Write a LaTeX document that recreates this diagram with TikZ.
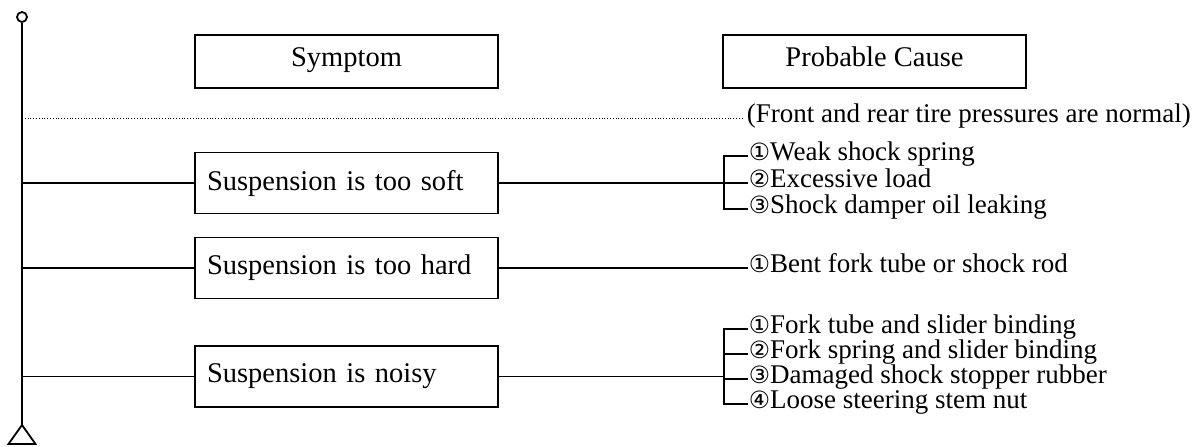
\documentclass[tikz,border=0pt]{standalone}
\usepackage{fontspec}
\setmainfont{Liberation Serif}
\newfontfamily\circfont[Scale=0.88]{DejaVu Sans}
\usetikzlibrary{positioning}
\newcommand{\cnum}[1]{{\circfont #1}}

\begin{document}
\begin{tikzpicture}[
  x=0.5pt, y=-0.5pt, line width=0.9pt,
  every node/.style={font=\fontsize{14.25}{17}\selectfont},
  headbox/.style={draw, minimum width=151.5pt, minimum height=26.5pt, text height=0.7em, text depth=0.2em},
  symbox/.style={draw, text width=139.5pt, inner xsep=6pt, minimum height=30.5pt, align=left},
  cause/.style={anchor=west, inner sep=0pt, font=\fontsize{13.5}{16}\selectfont, text height=0.62em, text depth=0.2em}
]
\useasboundingbox (0,0) rectangle (1196,446);

% trunk
\node[draw, circle, inner sep=0pt, minimum size=5pt] (top) at (22,17) {};
\coordinate (bot) at (22,425);
\draw (top) -- (bot);
\draw (bot) -- ++(-13.5,19) -- ++(27,0) -- cycle;

\node[headbox] (symptom) at (346.5,61.5) {Symptom};
\node[headbox] (cause) at (874.5,61.5) {Probable Cause};

\node[cause] (note) at (746,118) {(Front and rear tire pressures are normal)};
\draw[densely dotted, line width=0.4pt] (top |- note.west) -- ([xshift=-2pt]note.west);

% symptoms
\node[symbox] (soft) at (346.5,183) {Suspension is too soft};
\node[symbox] (hard) at (346.5,268) {Suspension is too hard};
\node[symbox] (noisy) at (346.5,376.5) {Suspension is noisy};
\foreach \s in {soft,hard,noisy}
  \draw (top |- \s.west) -- (\s.west);

% causes
\node[cause] (soft1) at (748,156) {\cnum{①}Weak shock spring};
\node[cause] (soft2) at (748,183) {\cnum{②}Excessive load};
\node[cause] (soft3) at (748,209) {\cnum{③}Shock damper oil leaking};
\draw (soft.east) -- ([xshift=-12pt]soft2.west) -- (soft2.west);
\draw (soft1.west) -- ++(-24,0) |- (soft3.west);

\node[cause] (hard1) at (748,268) {\cnum{①}Bent fork tube or shock rod};
\draw (hard.east) -- (hard1.west);

\node[cause] (noisy1) at (748,329) {\cnum{①}Fork tube and slider binding};
\node[cause] (noisy2) at (748,354) {\cnum{②}Fork spring and slider binding};
\node[cause] (noisy3) at (748,379) {\cnum{③}Damaged shock stopper rubber};
\node[cause] (noisy4) at (748,404) {\cnum{④}Loose steering stem nut};
\coordinate (noisyj) at ([xshift=-12pt]noisy3.west |- noisy.east);
\draw (noisy.east) -- (noisyj);
\draw (noisy1.west) -- ++(-24,0) |- (noisy4.west);
\foreach \n in {2,3}
  \draw (noisy\n.west) -- ++(-24,0);
\end{tikzpicture}
\end{document}
